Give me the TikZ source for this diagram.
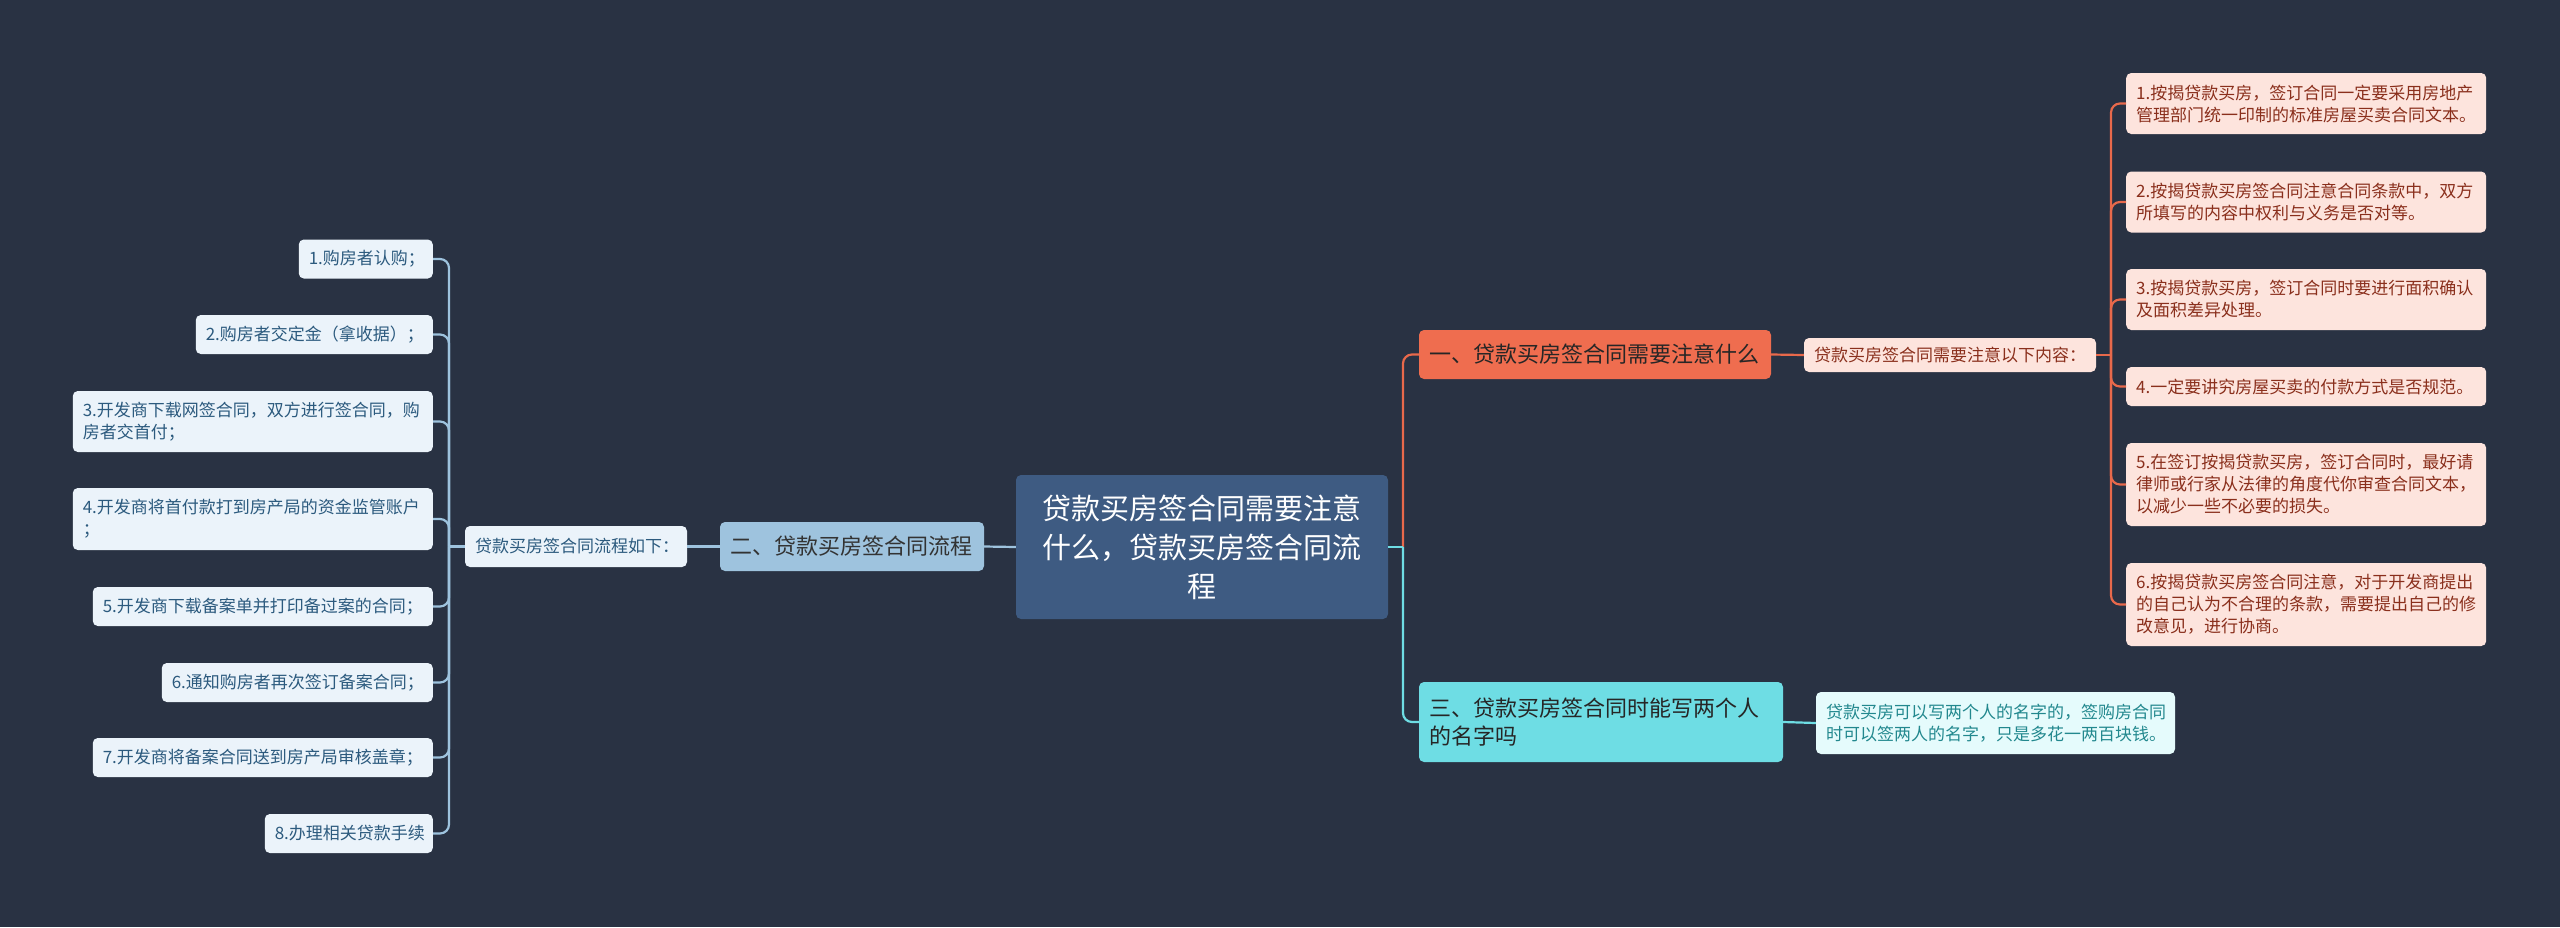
\documentclass[tikz,border=0pt]{standalone}
\usepackage{fontspec}
\setmainfont{Noto Sans CJK SC}
\usepackage{tikz}
\usetikzlibrary{calc}
\definecolor{bgnavy}{HTML}{293243}
\definecolor{rootblue}{HTML}{3E5B82}
\definecolor{procblue}{HTML}{9EC3DE}
\definecolor{procpale}{HTML}{EBF3FA}
\definecolor{proctext}{HTML}{2C5A7E}
\definecolor{attred}{HTML}{EF6D4F}
\definecolor{attline}{HTML}{E8694B}
\definecolor{attpale}{HTML}{FDE4DD}
\definecolor{atttext}{HTML}{8A2F1C}
\definecolor{namecyan}{HTML}{6EDDE4}
\definecolor{namepale}{HTML}{E5FBFC}
\definecolor{nametext}{HTML}{22888E}
\newcommand{\leaffont}{\fontsize{17}{22}\selectfont}
\newcommand{\branchfont}{\fontsize{22}{28}\selectfont}
\newcommand{\rootfont}{\fontsize{29}{39}\selectfont}

\begin{document}
\begin{tikzpicture}[
  x=1pt, y=-1pt,
  box/.style={rounded corners=5pt, inner xsep=10pt, inner ysep=0pt, align=left},
  root/.style={box, fill=rootblue, text=white, font=\rootfont, align=center,
               text width=352pt, minimum height=144pt},
  branch/.style={box, font=\branchfont, minimum height=49pt},
  leaf/.style={box, font=\leaffont, minimum height=39pt},
  pleaf/.style={leaf, fill=procpale, text=proctext},
  aleaf/.style={leaf, fill=attpale, text=atttext},
  conn/.style={line width=2.2pt, rounded corners=9pt},
  pconn/.style={conn, procblue},
  aconn/.style={conn, attline},
  cconn/.style={conn, namecyan}
]
\useasboundingbox (0,0) rectangle (2560,927);
\fill[bgnavy] (0,0) rectangle (2560,927);
% ----- centre -----
\node[root] (root) at (1202,547)
  {贷款买房签合同需要注意\\什么，贷款买房签合同流\\程};
% ----- left: contract process -----
\node[branch, fill=procblue, text=black!80, text width=244pt] (proc) at (852,546.5)
  {二、贷款买房签合同流程};
\node[pleaf, text width=202pt, minimum height=41pt] (pnote) at (576,546.5)
  {贷款买房签合同流程如下：};
\node[pleaf, anchor=east, text width=114pt] (p1) at (433,259)   {1.购房者认购；};
\node[pleaf, anchor=east, text width=217pt] (p2) at (433,334.5) {2.购房者交定金（拿收据）；};
\node[pleaf, anchor=east, text width=340pt, minimum height=61pt] (p3) at (433,421.5)
  {3.开发商下载网签合同，双方进行签合同，购\\房者交首付；};
\node[pleaf, anchor=east, text width=340pt, minimum height=62pt] (p4) at (433,519)
  {4.开发商将首付款打到房产局的资金监管账户\\；};
\node[pleaf, anchor=east, text width=320pt] (p5) at (433,606.5) {5.开发商下载备案单并打印备过案的合同；};
\node[pleaf, anchor=east, text width=251pt] (p6) at (433,682.5) {6.通知购房者再次签订备案合同；};
\node[pleaf, anchor=east, text width=320pt] (p7) at (433,757.5) {7.开发商将备案合同送到房产局审核盖章；};
\node[pleaf, anchor=east, text width=148pt] (p8) at (433,833.5) {8.办理相关贷款手续};
\coordinate (pbus) at (449,546.5);
\draw[pconn] (root.west) -- (proc.east);
\draw[pconn] (proc.west) -- (pnote.east);
\draw[pconn] (pnote.west) -- (pbus);
\foreach \i in {1,...,8}{\draw[pconn] (pbus) |- (p\i.east);}
% ----- right, top: what to watch for -----
\node[branch, fill=attred, text=black!85, text width=332pt] (att) at (1595,354.5)
  {一、贷款买房签合同需要注意什么};
\node[aleaf, text width=272pt, minimum height=34pt] (anote) at (1950,355)
  {贷款买房签合同需要注意以下内容：};
\node[aleaf, anchor=west, text width=340pt, minimum height=61pt] (a1) at (2126,103.5)
  {1.按揭贷款买房，签订合同一定要采用房地产\\管理部门统一印制的标准房屋买卖合同文本。};
\node[aleaf, anchor=west, text width=340pt, minimum height=61pt] (a2) at (2126,202)
  {2.按揭贷款买房签合同注意合同条款中，双方\\所填写的内容中权利与义务是否对等。};
\node[aleaf, anchor=west, text width=340pt, minimum height=61pt] (a3) at (2126,299.5)
  {3.按揭贷款买房，签订合同时要进行面积确认\\及面积差异处理。};
\node[aleaf, anchor=west, text width=340pt] (a4) at (2126,386.5)
  {4.一定要讲究房屋买卖的付款方式是否规范。};
\node[aleaf, anchor=west, text width=340pt, minimum height=83pt] (a5) at (2126,484.5)
  {5.在签订按揭贷款买房，签订合同时，最好请\\律师或行家从法律的角度代你审查合同文本，\\以减少一些不必要的损失。};
\node[aleaf, anchor=west, text width=340pt, minimum height=83pt] (a6) at (2126,604.5)
  {6.按揭贷款买房签合同注意，对于开发商提出\\的自己认为不合理的条款，需要提出自己的修\\改意见，进行协商。};
\coordinate (cbus) at (1403,547);
\coordinate (abus) at (2111,355);
\draw[aconn] (cbus) |- (att.west);
\draw[aconn] (att.east) -- (anote.west);
\draw[aconn] (anote.east) -- (abus);
\foreach \i in {1,...,6}{\draw[aconn] (abus) |- (a\i.west);}
% ----- right, bottom: two names -----
\node[branch, fill=namecyan, text=black!85, text width=344pt, minimum height=80pt] (names) at (1601,722)
  {三、贷款买房签合同时能写两个人\\的名字吗};
\node[leaf, fill=namepale, text=nametext, text width=339pt, minimum height=62pt] (nnote) at (1995.5,723)
  {贷款买房可以写两个人的名字的，签购房合同\\时可以签两人的名字，只是多花一两百块钱。};
\draw[cconn] (root.east) -- (cbus);
\draw[cconn] (cbus) |- (names.west);
\draw[cconn] (names.east) -- (nnote.west);
\end{tikzpicture}
\end{document}
